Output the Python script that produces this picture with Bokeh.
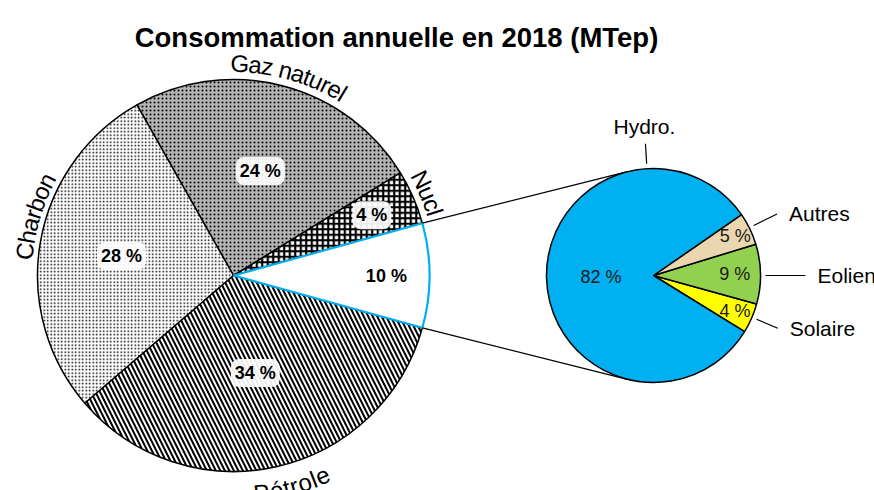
import math
from bokeh.plotting import figure
from bokeh.models import Range1d
from bokeh.core.properties import value
from bokeh.embed import file_html
from bokeh.resources import INLINE

# ---------------- data ----------------
title_text = "Consommation annuelle en 2018 (MTep)"

main_categories = ["Renouvelables", "Nucl", "Gaz naturel", "Charbon", "Pétrole"]
main_values = [8.6, 4.5, 24.4, 28.1, 34.4]
main_pct_labels = ["10 %", "4 %", "24 %", "28 %", "34 %"]
main_cat_labels = ["", "Nucl", "Gaz naturel", "Charbon", "Pétrole"]

sub_categories = ["Solaire", "Eolien", "Autres", "Hydro."]
sub_values = [4.5, 9.0, 4.9, 81.6]
sub_pct_labels = ["4 %", "9 %", "5 %", "82 %"]
sub_colors = ["#FFFF00", "#92D050", "#EAD7B0", "#00B0F0"]

# ---------------- layout / style ----------------
FONT = value("Liberation Sans")
W, H = 874, 490
p = figure(width=W, height=H, x_range=Range1d(0, 874), y_range=Range1d(0, 490),
           output_backend="svg", toolbar_location=None, min_border=0,
           x_axis_type=None, y_axis_type=None)
p.grid.visible = False
p.outline_line_color = None
p.background_fill_color = "white"

C1x, C1y, R1 = 233.0, 215.0, 196.0
C2x, C2y, R2 = 653.0, 215.0, 107.0
BLUE = "#00B0F0"

# main pie
hatch_styles = [
    dict(),
    dict(fill_color="white", hatch_pattern="+", hatch_scale=5.5, hatch_weight=2.2),
    dict(fill_color="#b4b4b4", hatch_pattern=".", hatch_scale=4.0, hatch_weight=1.6),
    dict(fill_color="white", hatch_pattern=".", hatch_scale=3.5, hatch_weight=0.8),
    dict(fill_color="white", hatch_pattern="\\", hatch_scale=9, hatch_weight=2.0),
]
label_frac = [0.78, 0.77, 0.55, 0.58, 0.51]

total = sum(main_values)
start = -main_values[0] / 2 / total * 360.0
main_edges = []
a = start
for v in main_values:
    main_edges.append((a, a + v / total * 360.0))
    a += v / total * 360.0

for i in range(1, len(main_values)):
    s, e = main_edges[i]
    p.wedge(x=C1x, y=C1y, radius=R1, start_angle=math.radians(s), end_angle=math.radians(e),
            line_color="black", line_width=1.5,
            hatch_color="black", **hatch_styles[i])
s, e = main_edges[0]
p.wedge(x=C1x, y=C1y, radius=R1, start_angle=math.radians(s), end_angle=math.radians(e),
        fill_color="white", line_color=BLUE, line_width=2.2)

# main percentage labels with glow
lx, ly = [], []
for i, (s, e) in enumerate(main_edges):
    m = math.radians((s + e) / 2)
    lx.append(C1x + label_frac[i] * R1 * math.cos(m))
    ly.append(C1y + label_frac[i] * R1 * math.sin(m))
p.text(x=lx, y=ly, text=main_pct_labels, text_font=FONT, text_font_size="18px",
       text_font_style="bold", text_align="center", text_baseline="middle",
       text_color="black", background_fill_color="white", background_fill_alpha=0.92,
       border_radius=8, padding=4)

# curved category labels
WID = {' ': 278, 'G': 778, 'a': 556, 'z': 500, 'n': 556, 't': 278, 'u': 556, 'r': 333,
       'e': 556, 'l': 222, 'C': 722, 'h': 556, 'b': 556, 'o': 556, 'N': 722, 'c': 500,
       'P': 667, 'é': 556}
curve_center = {"Nucl": 23.0, "Gaz naturel": 74.5, "Charbon": 163.5, "Pétrole": 285.5}
curve_clock = {"Nucl": True, "Gaz naturel": True, "Charbon": True, "Pétrole": False}
curve_rbase = {"Nucl": 211.0, "Gaz naturel": 212.0, "Charbon": 210.0, "Pétrole": 219.0}
FS = 24.0

for lab in main_cat_labels:
    if not lab:
        continue
    cw = curve_clock[lab]
    rb = curve_rbase[lab]
    widths = [WID.get(ch, 556) * FS / 1000 for ch in lab]
    tot = sum(widths)
    rsp = rb + (0.3 * FS if cw else -0.3 * FS)
    sgn = -1 if cw else 1
    pos = -tot / 2
    xs, ys, rots, chars = [], [], [], []
    for ch, w in zip(lab, widths):
        c = pos + w / 2
        pos += w
        if ch == " ":
            continue
        th = math.radians(curve_center[lab]) + sgn * c / rsp
        xs.append(C1x + rb * math.cos(th))
        ys.append(C1y + rb * math.sin(th))
        rots.append(th - math.pi / 2 if cw else th + math.pi / 2)
        chars.append(ch)
    p.text(x=xs, y=ys, text=chars, angle=rots, text_font=FONT, text_font_size=f"{FS}px",
           text_align="center", text_baseline="alphabetic", text_color="black")

# connector lines (tangent from slice edge points to second pie)
for sign, ang in ((1, main_edges[0][1]), (-1, main_edges[0][0])):
    px = C1x + R1 * math.cos(math.radians(ang))
    py = C1y + R1 * math.sin(math.radians(ang))
    vx, vy = C2x - px, C2y - py
    d = math.hypot(vx, vy)
    beta = math.asin(R2 / d)
    phi = math.atan2(vy, vx) + sign * beta
    L = math.sqrt(d * d - R2 * R2)
    p.segment(x0=px, y0=py, x1=px + L * math.cos(phi), y1=py + L * math.sin(phi),
              line_color="black", line_width=1.3)

# secondary pie
sub_start = -31.6
stot = sum(sub_values)
sub_edges = []
a = sub_start
for v in sub_values:
    sub_edges.append((a, a + v / stot * 360.0))
    a += v / stot * 360.0
for (s, e), col in zip(sub_edges, sub_colors):
    p.wedge(x=C2x, y=C2y, radius=R2, start_angle=math.radians(s), end_angle=math.radians(e),
            fill_color=col, line_color="black", line_width=1.5)

sub_label_frac = [0.83, 0.76, 0.85, 0.49]
sx, sy = [], []
for i, (s, e) in enumerate(sub_edges):
    m = math.radians((s + e) / 2)
    sx.append(C2x + sub_label_frac[i] * R2 * math.cos(m))
    sy.append(C2y + sub_label_frac[i] * R2 * math.sin(m))
p.text(x=sx, y=sy, text=sub_pct_labels, text_font=FONT, text_font_size="18px",
       text_align="center", text_baseline="middle", text_color="#1a1a1a")

# secondary category labels with leader lines
lead_angle = [-23.0, 0.0, 26.5, 93.5]
lead_out = [28.0, 45.0, 31.0, 25.0]
for i, lab in enumerate(sub_categories):
    t = math.radians(lead_angle[i])
    r_in, r_out = R2 + 5, R2 + lead_out[i]
    x0, y0 = C2x + r_in * math.cos(t), C2y + r_in * math.sin(t)
    x1, y1 = C2x + r_out * math.cos(t), C2y + r_out * math.sin(t)
    p.segment(x0=x0, y0=y0, x1=x1, y1=y1, line_color="black", line_width=1.2)
    if lab == "Hydro.":
        p.text(x=x1 - 1, y=y1 + 17, text=[lab], text_font=FONT, text_font_size="21px",
               text_align="center", text_baseline="middle", text_color="black")
    else:
        p.text(x=x1 + 12, y=y1, text=[lab], text_font=FONT, text_font_size="21px",
               text_align="left", text_baseline="middle", text_color="black")

# title
p.text(x=396, y=453.5, text=[title_text], text_font=FONT, text_font_size="27.5px",
       text_font_style="bold", text_align="center", text_baseline="alphabetic",
       text_color="black")

open("out.html", "w").write(file_html(p, INLINE))
